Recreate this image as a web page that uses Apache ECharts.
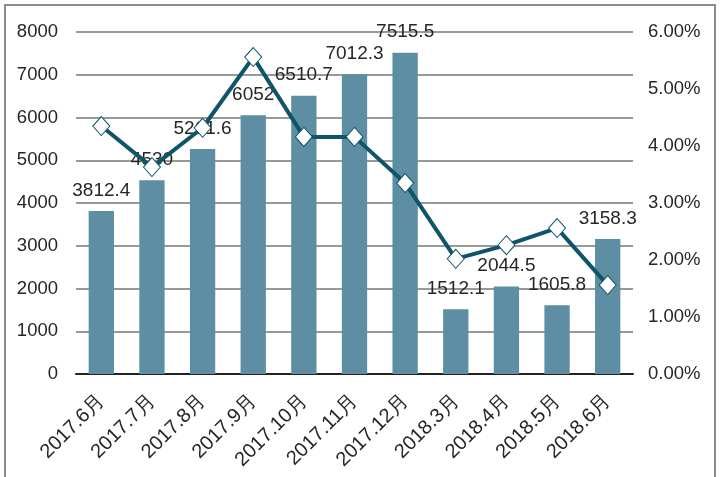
<!DOCTYPE html>
<html><head><meta charset="utf-8">
<script src="https://cdn.jsdelivr.net/npm/echarts@6/dist/echarts.min.js"></script>
<style>html,body{margin:0;padding:0;background:#fff}#c{width:720px;height:477px}</style>
</head><body><div id="c"></div>
<script>
const categories = ['2017.6月','2017.7月','2017.8月','2017.9月','2017.10月','2017.11月','2017.12月','2018.3月','2018.4月','2018.5月','2018.6月'];
const barValues = [3812.4, 4530, 5261.6, 6052, 6510.7, 7012.3, 7515.5, 1512.1, 2044.5, 1605.8, 3158.3];
const lineValues = [4.35, 3.63, 4.32, 5.56, 4.16, 4.16, 3.35, 2.02, 2.26, 2.56, 1.56];
const leftTicks = [0, 8000, 1000];
const rightTicks = [0, 6, 1];

const FONT = '"Liberation Sans",Arial,sans-serif';
const chart = echarts.init(document.getElementById('c'));
chart.setOption({
  animation: false,
  backgroundColor: '#fff',
  graphic: [{type:'rect', shape:{x:5,y:5,width:710,height:480}, style:{fill:'none', stroke:'#8c8c8c', lineWidth:2}, z:-10}],
  grid: {left: 76, right: 87, top: 32, bottom: 103},
  xAxis: {
    type: 'category', data: categories,
    axisLine: {lineStyle: {color: '#222', width: 2}},
    axisTick: {show: false},
    axisLabel: {rotate: 45, margin: 24, fontSize: 20, color: '#262626', fontFamily: FONT, interval: 0}
  },
  yAxis: [
    {type: 'value', min: leftTicks[0], max: leftTicks[1], interval: leftTicks[2],
     axisLine: {show: false}, axisTick: {show: false},
     splitLine: {lineStyle: {color: '#999', width: 2}},
     axisLabel: {fontSize: 18.5, color: '#262626', fontFamily: FONT, margin: 18, formatter: v => String(v)}},
    {type: 'value', min: rightTicks[0], max: rightTicks[1], interval: rightTicks[2],
     axisLine: {show: false}, axisTick: {show: false}, splitLine: {show: false},
     axisLabel: {fontSize: 18.5, color: '#262626', fontFamily: FONT, margin: 15,
       formatter: v => v.toFixed(2) + '%'}}
  ],
  series: [
    {type: 'bar', data: barValues, barWidth: '50%', itemStyle: {color: '#5d8ea4'},
     label: {show: true, position: 'top', distance: 11, fontSize: 19, color: '#262626', fontFamily: FONT}},
    {type: 'line', yAxisIndex: 1, data: lineValues, symbol: 'diamond', symbolSize: [17, 19],
     lineStyle: {color: '#0f5469', width: 4},
     itemStyle: {color: '#fff', borderColor: '#0f5469', borderWidth: 1}, z: 3}
  ]
});
</script></body></html>
